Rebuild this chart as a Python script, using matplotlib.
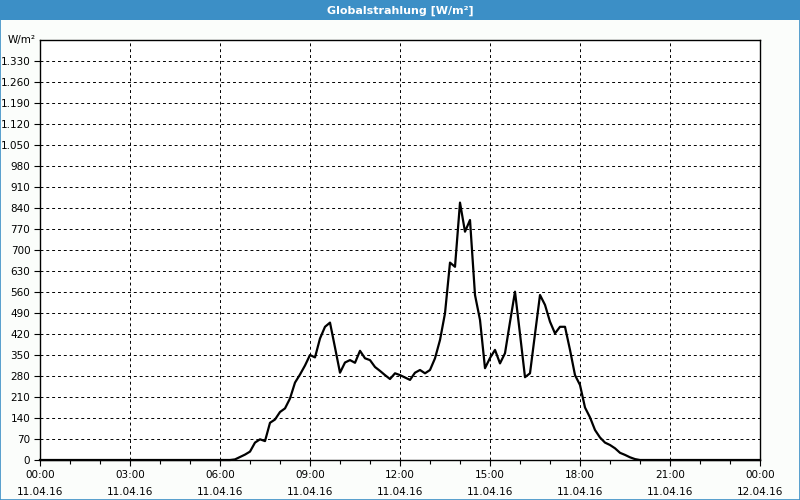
import numpy as np
import matplotlib.pyplot as plt
from matplotlib.patches import Rectangle

# global radiation W/m2, 10 minute steps from 06:00 to 20:00 (11.04.16)
day_start = 6.0
step_min = 10
radiation = [0, 0, 0, 2, 10, 18,
             28, 58, 69, 63, 124, 135,
             160, 172, 205, 258, 285, 315,
             350, 342, 405, 444, 458, 375,
             291, 325, 333, 324, 364, 339,
             333, 310, 297, 283, 270, 289,
             283, 275, 267, 291, 300, 289,
             300, 339, 400, 489, 658, 644,
             858, 761, 800, 550, 467, 306,
             340, 367, 322, 356, 460, 561,
             420, 276, 289, 420, 550, 517,
             461, 422, 444, 444, 367, 283,
             250, 175, 142, 100, 75, 58,
             50, 39, 24, 17, 9, 3,
             0]
y_ticks = list(range(0, 1331, 70))
x_ticks = list(range(0, 25, 3))
x_labels = ["00:00\n11.04.16", "03:00\n11.04.16", "06:00\n11.04.16",
            "09:00\n11.04.16", "12:00\n11.04.16", "15:00\n11.04.16",
            "18:00\n11.04.16", "21:00\n11.04.16", "00:00\n12.04.16"]

hours = day_start + np.arange(len(radiation)) * step_min / 60.0
hours = np.concatenate([[0.0], hours, [24.0]])
values = np.concatenate([[0], radiation, [0]])

blue = '#3c8fc6'
fig = plt.figure(figsize=(8, 5), dpi=100, facecolor='#fbfdfb')
# title bar and frame
fig.patches.append(Rectangle((0, 0.96), 1, 0.04, transform=fig.transFigure,
                             facecolor=blue, edgecolor='none'))
fig.patches.append(Rectangle((0.0006, 0.001), 0.9988, 0.998, transform=fig.transFigure,
                             facecolor='none', edgecolor=blue, lw=1.2))
fig.text(0.5, 0.979, "Globalstrahlung [W/m²]", color='white', ha='center', va='center',
         fontsize=8, fontweight='bold')

ax = fig.add_axes([0.05, 0.08, 0.9, 0.84])
ax.set_facecolor('white')
ax.plot(hours, values, color='black', lw=1.6, clip_on=False, zorder=3)

ax.set_xlim(0, 24)
ax.set_ylim(0, 1400)
ax.set_yticks(y_ticks)
ax.set_yticklabels([f"{v:,}".replace(",", ".") for v in y_ticks])
ax.set_xticks(x_ticks)
ax.set_xticklabels(x_labels, linespacing=1.9)
ax.set_xticks(range(0, 25), minor=True)
ax.tick_params(axis='both', which='major', labelsize=7.5, length=4, width=0.8, pad=3)
ax.tick_params(axis='x', which='minor', length=3, width=0.8)
ax.grid(True, which='major', color='black', linestyle=(0, (3, 3)), lw=0.7)
for s in ax.spines.values():
    s.set_linewidth(1.0)

ax.text(-0.006, 1400, "W/m²", transform=ax.get_yaxis_transform(), ha='right', va='center',
        fontsize=7.5)

fig.savefig('out.png', dpi=100, facecolor=fig.get_facecolor())
